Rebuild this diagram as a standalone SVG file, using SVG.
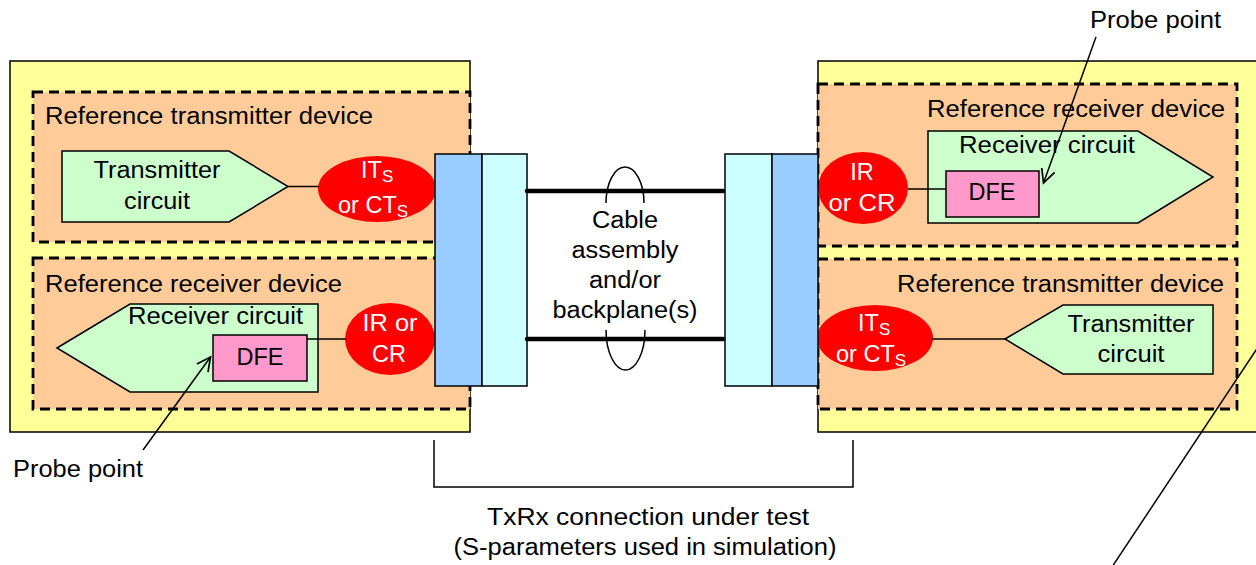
<svg xmlns="http://www.w3.org/2000/svg" width="1256" height="565" viewBox="0 0 1256 565">
<defs>
<style>
text{font-family:"Liberation Sans",Arial,sans-serif;font-size:23.5px;fill:#000}
.w{fill:#fff}
.sub{font-size:17px}
.yb{fill:#FFFF99;stroke:#000;stroke-width:1.5}
.dev{fill:#FFCC99;stroke:#000;stroke-width:2.8;stroke-dasharray:10 6}
.circ{fill:#CCFFCC;stroke:#000;stroke-width:1.5}
.dfe{fill:#FF99CC;stroke:#000;stroke-width:1.5}
.red{fill:#FF0000;stroke:none}
.blue{fill:#99CCFF;stroke:#000;stroke-width:1.5}
.cyan{fill:#CCFFFF;stroke:#000;stroke-width:1.5}
.ln{stroke:#000;stroke-width:1.5;fill:none}
.wire{stroke:#000;stroke-width:4.5;stroke-linecap:round;fill:none}
</style>
<marker id="open" markerUnits="userSpaceOnUse" markerWidth="16" markerHeight="16" refX="12" refY="6" orient="auto" viewBox="0 0 14 12">
<path d="M0,0 L12,6 L0,12" fill="none" stroke="#000" stroke-width="1.5"/>
</marker>
</defs>
<rect width="1256" height="565" fill="#fff"/>

<g id="left-board">
<rect class="yb" x="10" y="61" width="460" height="371"/>
</g>
<g id="right-board">
<rect class="yb" x="818" y="61" width="450" height="371"/>
</g>

<g id="left-tx-device">
<rect class="dev" x="33" y="92" width="437" height="150"/>
<text x="45" y="124" textLength="328" lengthAdjust="spacingAndGlyphs">Reference transmitter device</text>
</g>
<g id="left-tx-circuit">
<polygon class="circ" points="62,151 229,151 288,186.5 229,222 62,222"/>
<text x="157" y="178" text-anchor="middle" textLength="127" lengthAdjust="spacingAndGlyphs">Transmitter</text>
<text x="157" y="209" text-anchor="middle" textLength="66" lengthAdjust="spacingAndGlyphs">circuit</text>
</g>
<g id="left-its">
<ellipse class="red" cx="377" cy="189" rx="59" ry="33"/>
<text class="w" x="361" y="178">IT<tspan class="sub w" dy="4">S</tspan></text>
<text class="w" x="338" y="213">or CT<tspan class="sub w" dy="4">S</tspan></text>
</g>

<g id="left-rx-device">
<rect class="dev" x="33" y="258" width="437" height="151"/>
<text x="45" y="292" textLength="297" lengthAdjust="spacingAndGlyphs">Reference receiver device</text>
</g>
<g id="left-rx-circuit">
<polygon class="circ" points="57,348 130,304 318,304 318,392 130,392"/>
<text x="128" y="324" textLength="175" lengthAdjust="spacingAndGlyphs">Receiver circuit</text>
</g>
<g id="left-dfe">
<rect class="dfe" x="213" y="335" width="94" height="46"/>
<text x="260" y="365" text-anchor="middle">DFE</text>
</g>
<g id="left-ir">
<ellipse class="red" cx="390" cy="339" rx="45" ry="36"/>
<text class="w" x="390" y="331" text-anchor="middle" textLength="55" lengthAdjust="spacingAndGlyphs">IR or</text>
<text class="w" x="389" y="362" text-anchor="middle">CR</text>
</g>
<g id="left-probe">
<text x="13" y="477" textLength="130" lengthAdjust="spacingAndGlyphs">Probe point</text>
</g>

<g id="right-rx-device">
<rect class="dev" x="818" y="84" width="419" height="162"/>
<text x="927" y="117" textLength="298" lengthAdjust="spacingAndGlyphs">Reference receiver device</text>
</g>
<g id="right-rx-circuit">
<polygon class="circ" points="928,131 1138,131 1213,177 1138,223 928,223"/>
<text x="959" y="153" textLength="176" lengthAdjust="spacingAndGlyphs">Receiver circuit</text>
</g>
<g id="right-dfe">
<rect class="dfe" x="946" y="171" width="93" height="46"/>
<text x="992" y="200" text-anchor="middle">DFE</text>
</g>
<g id="right-ir">
<ellipse class="red" cx="863" cy="188" rx="45" ry="36"/>
<text class="w" x="862" y="180" text-anchor="middle">IR</text>
<text class="w" x="862" y="211" text-anchor="middle" textLength="67" lengthAdjust="spacingAndGlyphs">or CR</text>
</g>
<g id="right-probe">
<text x="1090" y="28" textLength="131" lengthAdjust="spacingAndGlyphs">Probe point</text>
</g>

<g id="right-tx-device">
<rect class="dev" x="818" y="259" width="419" height="150"/>
<text x="897" y="292" textLength="327" lengthAdjust="spacingAndGlyphs">Reference transmitter device</text>
</g>
<g id="right-its">
<ellipse class="red" cx="875" cy="338" rx="58" ry="33"/>
<text class="w" x="858" y="331">IT<tspan class="sub w" dy="4">S</tspan></text>
<text class="w" x="836" y="362">or CT<tspan class="sub w" dy="4">S</tspan></text>
</g>
<g id="right-tx-circuit">
<polygon class="circ" points="1005,339 1063,305 1213,305 1213,374 1063,374"/>
<text x="1131" y="332" text-anchor="middle" textLength="127" lengthAdjust="spacingAndGlyphs">Transmitter</text>
<text x="1131" y="362" text-anchor="middle" textLength="67" lengthAdjust="spacingAndGlyphs">circuit</text>
</g>

<g id="left-connector">
<rect class="blue" x="435" y="154" width="47" height="232"/>
<rect class="cyan" x="482" y="154" width="45" height="232"/>
</g>
<g id="right-connector">
<rect class="cyan" x="725" y="154" width="47" height="232"/>
<rect class="blue" x="772" y="154" width="46" height="232"/>
</g>

<g id="cable">
<text x="625" y="228" text-anchor="middle" textLength="66" lengthAdjust="spacingAndGlyphs">Cable</text>
<text x="625" y="258" text-anchor="middle" textLength="107" lengthAdjust="spacingAndGlyphs">assembly</text>
<text x="625" y="288" text-anchor="middle" textLength="72" lengthAdjust="spacingAndGlyphs">and/or</text>
<text x="625" y="318" text-anchor="middle" textLength="145" lengthAdjust="spacingAndGlyphs">backplane(s)</text>
</g>

<g id="connectors">
<line class="ln" x1="288" y1="186.5" x2="319" y2="186.5"/>
<line class="ln" x1="307" y1="339" x2="346" y2="339"/>
<line class="ln" x1="908" y1="189" x2="946" y2="189"/>
<line class="ln" x1="932" y1="339" x2="1005" y2="339"/>
<line class="wire" x1="527" y1="191" x2="723" y2="191"/>
<line class="wire" x1="527" y1="339" x2="723" y2="339"/>
<path class="ln" d="M606,203 A19,36 0 0 1 644,203"/>
<path class="ln" d="M606,330 A19.5,40 0 0 0 645,330"/>
<line class="ln" x1="143" y1="450" x2="210.5" y2="357" marker-end="url(#open)"/>
<line class="ln" x1="1096" y1="37" x2="1043.5" y2="183" marker-end="url(#open)"/>
<path class="ln" d="M434,440 V487 H853 V440"/>
<line class="ln" x1="1260" y1="344" x2="1110" y2="570" stroke-width="2"/>
</g>

<g id="caption">
<text x="648" y="525" text-anchor="middle" textLength="322" lengthAdjust="spacingAndGlyphs">TxRx connection under test</text>
<text x="645" y="555" text-anchor="middle" textLength="383" lengthAdjust="spacingAndGlyphs">(S-parameters used in simulation)</text>
</g>
</svg>
